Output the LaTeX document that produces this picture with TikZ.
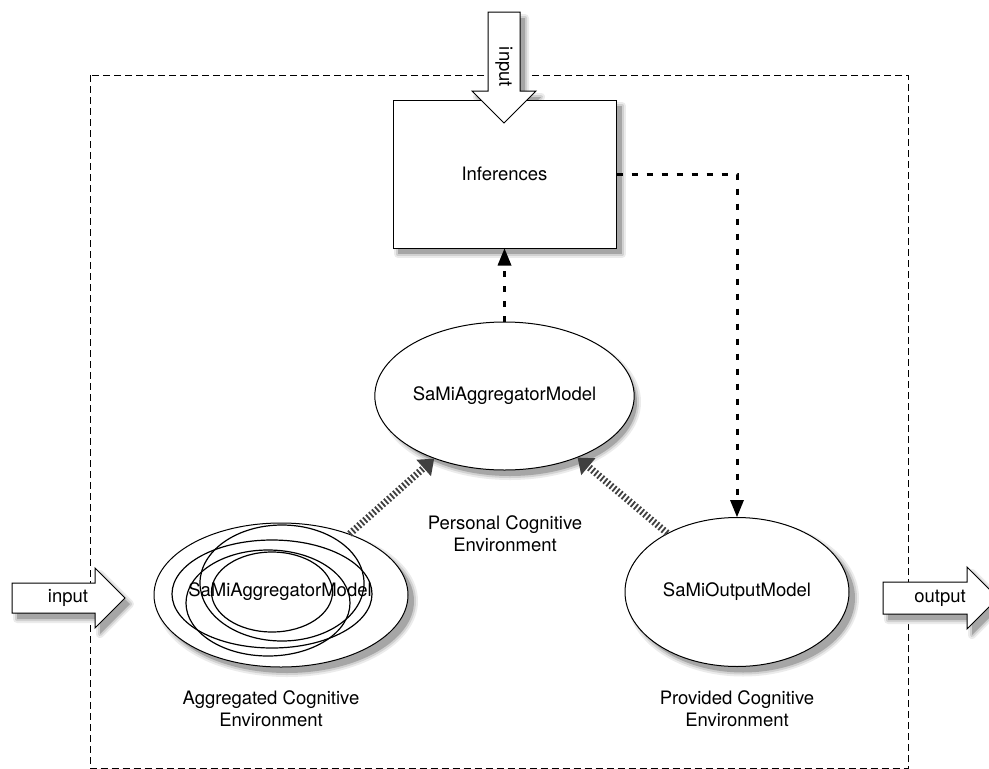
\documentclass[tikz,border=0pt]{standalone}
\usepackage{fontspec}
\setmainfont{TeX Gyre Heros}
\usetikzlibrary{arrows.meta,shapes.geometric,backgrounds}

\begin{document}
\begin{tikzpicture}[x=1pt,y=-1pt,font=\fontsize{18.5}{22}\selectfont,
  shadowfill/.style={preaction={draw=black!8,line width=8pt,line join=round},
    preaction={draw=black!18,line width=4pt,line join=round},
    fill=black!35},
  model/.style={ellipse,draw,line width=1pt,fill=white,inner sep=0pt},
  ring/.style={ellipse,draw,line width=1.2pt,inner sep=0pt},
  blockarrow/.style={draw,line width=1pt,fill=white,line join=miter},
  dotarrow/.style={line width=3pt,dash pattern=on 6pt off 9pt,-{Triangle[length=17pt,width=14pt,line width=0pt]}},
  hatched/.style={line width=7pt,black!75,dash pattern=on 1.8pt off 2.2pt,-{Triangle[length=14pt,width=22pt,line width=0pt]}}]
% 989pt x 769pt, one pt per pixel
\useasboundingbox (0,0) rectangle (989,769);
\path[draw,line width=0.8pt,dash pattern=on 7pt off 4pt] (90,75) rectangle (908,768.5);
% soft shadows, laid down before the shapes
\path[shadowfill] (398,106) rectangle (622,254);
\path[shadowfill] (510,402) ellipse [x radius=127,y radius=74];
\path[shadowfill] (743,598) ellipse [x radius=112,y radius=74.5];
\path[shadowfill] (287,601) ellipse [x radius=127,y radius=72];
\path[shadowfill,shift={(5,6)}] (488,12) -- (520,12) -- (520,91) -- (536,91) -- (504,123) -- (472,91) -- (488,91) -- cycle;
\path[shadowfill,shift={(5,6)}] (12,583) -- (95,583) -- (95,568) -- (125,598) -- (95,628) -- (95,613) -- (12,613) -- cycle;
\path[shadowfill,shift={(5,6)}] (883,582) -- (967,582) -- (967,567) -- (998,598) -- (967,629) -- (967,614) -- (883,614) -- cycle;
\node[draw,line width=1pt,fill=white,minimum width=223pt,minimum height=148pt] (inferences) at (504.5,174) {Inferences};
\path[blockarrow] (488,12) -- (520,12) -- (520,91) -- (536,91) -- (504,123) -- (472,91) -- (488,91) -- cycle;
\node[rotate=-90] (topinput) at (504,67) {input};
\path[blockarrow] (12,583) -- (95,583) -- (95,568) -- (125,598) -- (95,628) -- (95,613) -- (12,613) -- cycle;
\node (leftinput) at (68,598) {input};
\path[blockarrow] (883,582) -- (967,582) -- (967,567) -- (998,598) -- (967,629) -- (967,614) -- (883,614) -- cycle;
\node (output) at (940,598) {output};
\node[model,minimum width=254pt,minimum height=148pt] (central) at (504.5,396) {SaMiAggregatorModel};
\node[model,minimum width=224pt,minimum height=149pt] (outmodel) at (737,592) {SaMiOutputModel};
\node[model,minimum width=254pt,minimum height=144pt] (aggr) at (281,595) {};
\node[ring,minimum width=200pt,minimum height=108pt] (ringa) at (272,594) {};
\node[ring,minimum width=164pt,minimum height=106pt] (ringb) at (268,603) {};
\node[ring,minimum width=164pt,minimum height=116pt] (ringc) at (282,583) {};
\node[ring,minimum width=121pt,minimum height=80pt] (ringd) at (272,592) {};
\node (aggrname) at (280,592) {SaMiAggregatorModel};
\node[align=center] (personal) at (505,534) {Personal Cognitive\\Environment};
\node[align=center] (aggregated) at (271,709) {Aggregated Cognitive\\Environment};
\node[align=center] (provided) at (737,709) {Provided Cognitive\\Environment};
\draw[dotarrow] (central) -- (inferences);
\draw[dotarrow] (inferences.east) -| (outmodel);
\draw[hatched] (aggr) -- (central);
\draw[hatched] (outmodel) -- (central);
\end{tikzpicture}
\end{document}
